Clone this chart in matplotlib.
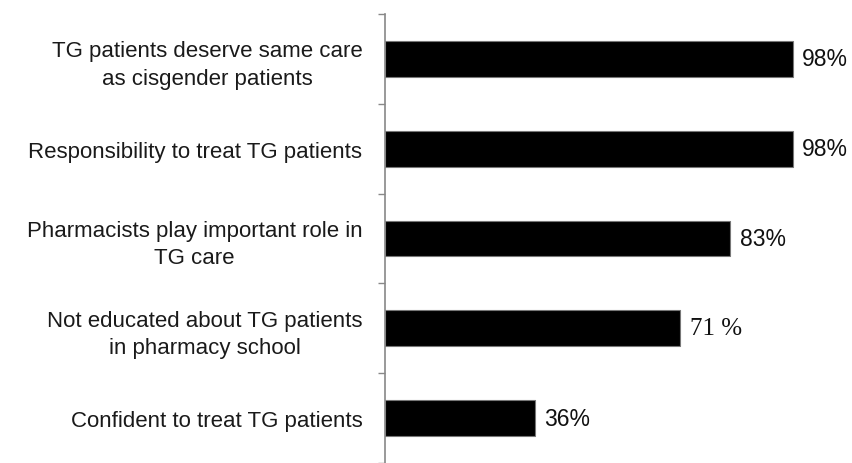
import matplotlib.pyplot as plt
import numpy as np

# --- DATA (top to bottom) ---
CATEGORIES = [
    "TG patients deserve same care\nas cisgender patients",
    "Responsibility to treat TG patients",
    "Pharmacists play important role in\nTG care",
    "Not educated about TG patients\nin pharmacy school",
    "Confident to treat TG patients",
]
VALUES = [98, 98, 83, 71, 36]
VALUE_LABELS = ["98%", "98%", "83%", "71 %", "36%"]
# the 71 % label is set in a serif face in the original
LABEL_FONTS = ["Liberation Sans", "Liberation Sans", "Liberation Sans",
               "Liberation Serif", "Liberation Sans"]
LABEL_SIZES = [16.5, 16.5, 16.5, 18, 16.5]

plt.rcParams['font.family'] = ['Liberation Sans', 'DejaVu Sans']

fig = plt.figure(figsize=(8.52, 4.64), dpi=100)
ax = fig.add_axes([0.4515, 0.0, 0.4886, 0.9677])

y = np.arange(len(CATEGORIES))
ax.barh(y, VALUES, height=0.4, color='black', edgecolor='#777777', linewidth=0.8)

# value labels next to each bar
for yi, v, lab, fam, fs in zip(y, VALUES, VALUE_LABELS, LABEL_FONTS, LABEL_SIZES):
    ax.annotate(lab, xy=(v, yi), xytext=(7, 0), textcoords='offset points',
                va='center', ha='left', fontsize=fs, family=fam, color='#111111')

ax.set_xlim(0, 100)
ax.set_ylim(len(CATEGORIES) - 0.604, -0.5)

# category labels, no tick marks at the labels; ticks between the bars
ax.set_yticks(y)
ax.set_yticklabels(CATEGORIES, fontsize=16, color='#1a1a1a', linespacing=1.4)
for t in ax.get_yticklabels():
    t.set_multialignment('center')
ax.tick_params(axis='y', which='major', length=0, pad=16)
ax.set_yticks(np.arange(-0.5, len(CATEGORIES)), minor=True)
ax.tick_params(axis='y', which='minor', length=5, width=1, color='#888888', direction='out')

ax.xaxis.set_visible(False)
for s in ['top', 'right', 'bottom']:
    ax.spines[s].set_visible(False)
ax.spines['left'].set_color('#888888')
ax.spines['left'].set_linewidth(1.2)

fig.savefig('out.png', dpi=100)
